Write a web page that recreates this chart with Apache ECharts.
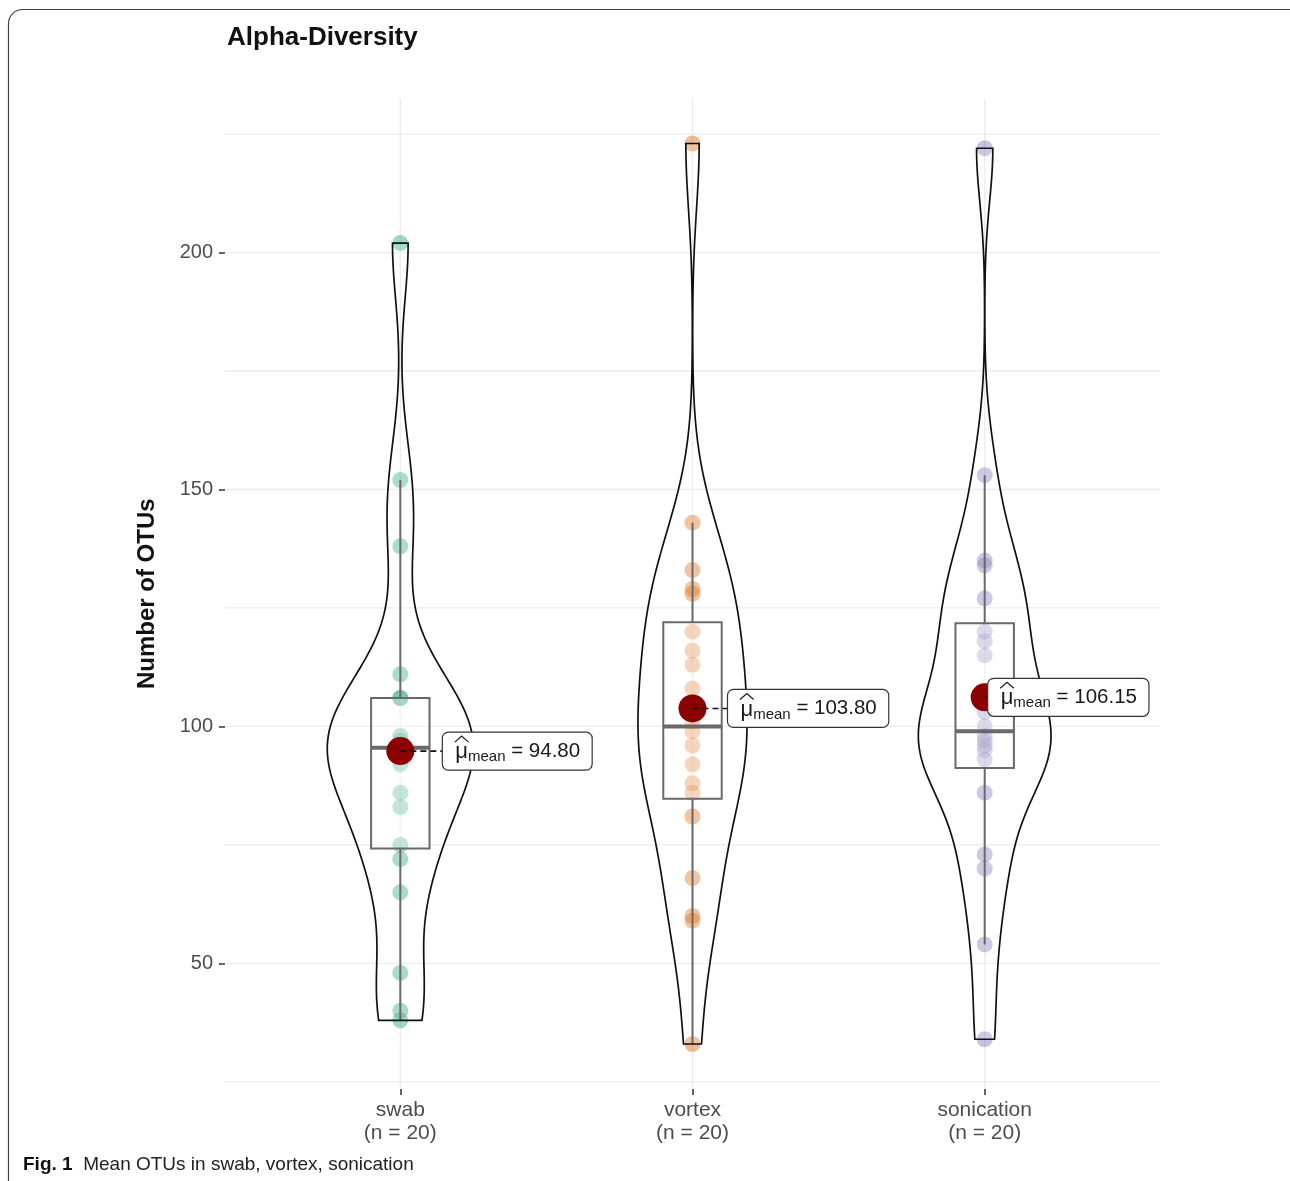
<!DOCTYPE html>
<html>
<head>
<meta charset="utf-8">
<script src="https://cdn.jsdelivr.net/npm/echarts@6/dist/echarts.min.js"></script>
<style>
  html, body { margin: 0; padding: 0; background: #ffffff; }
  #chart { width: 1290px; height: 1181px; }
</style>
</head>
<body>
<div id="chart"></div>
<script>
// Observed OTU counts per sampling method (20 samples each)
const categories = ['swab', 'vortex', 'sonication'];
const swabOTUs = [38, 40, 48, 65, 72, 75, 83, 86, 92, 95, 96, 96, 97, 98, 106, 106, 111, 138, 152, 202];
const vortexOTUs = [33, 59, 60, 68, 81, 86, 88, 92, 96, 99, 101, 108, 113, 116, 120, 128, 129, 133, 143, 223];
const sonicationOTUs = [34, 54, 70, 73, 86, 93, 95, 96, 97, 98, 100, 103, 115, 118, 120, 127, 134, 135, 153, 222];
const yTickValues = [50, 100, 150, 200];
const yGridValues = [25, 50, 75, 100, 125, 150, 175, 200, 225];

// Styling / layout
const groupColors = ['#1b9e77', '#d95f02', '#7570b3'];
const meanLabelOffsetPx = [42, 35, 3];
const FONT = '"Liberation Sans", Arial, Helvetica, sans-serif';
const GRID_COLOR = '#ebebeb';

const groups = [swabOTUs, vortexOTUs, sonicationOTUs];

// ---------- statistics helpers ----------
function sortNum(a) { return a.slice().sort((x, y) => x - y); }
function quantile7(sorted, p) {
  const h = (sorted.length - 1) * p;
  const lo = Math.floor(h);
  const hi = Math.min(lo + 1, sorted.length - 1);
  return sorted[lo] + (h - lo) * (sorted[hi] - sorted[lo]);
}
function mean(a) { return a.reduce((s, v) => s + v, 0) / a.length; }
function sd(a) {
  const m = mean(a);
  return Math.sqrt(a.reduce((s, v) => s + (v - m) * (v - m), 0) / (a.length - 1));
}
function bwNrd0(a) {
  const s = sortNum(a);
  const iqr = quantile7(s, 0.75) - quantile7(s, 0.25);
  const lo = Math.min(sd(a), iqr / 1.34);
  return 0.9 * lo * Math.pow(a.length, -0.2);
}
function kde(a, bw, x) {
  let sum = 0;
  for (const v of a) { const z = (x - v) / bw; sum += Math.exp(-0.5 * z * z); }
  return sum / (a.length * bw * Math.sqrt(2 * Math.PI));
}
function boxStats(a) {
  const s = sortNum(a);
  const q1 = quantile7(s, 0.25), med = quantile7(s, 0.5), q3 = quantile7(s, 0.75);
  const iqr = q3 - q1;
  const lowFence = q1 - 1.5 * iqr, highFence = q3 + 1.5 * iqr;
  const lowW = s.find(v => v >= lowFence);
  const highW = s.slice().reverse().find(v => v <= highFence);
  return { q1, med, q3, lowW, highW };
}

// Violin outlines: gaussian KDE trimmed to each group's range, area-scaled
const N_DENS = 256;
const violins = groups.map(a => {
  const bw = bwNrd0(a);
  const lo = Math.min(...a), hi = Math.max(...a);
  const pts = [];
  for (let k = 0; k < N_DENS; k++) {
    const y = lo + (hi - lo) * k / (N_DENS - 1);
    pts.push([y, kde(a, bw, y)]);
  }
  return pts;
});
const maxDensity = Math.max(...violins.map(v => Math.max(...v.map(p => p[1]))));
const VIOLIN_HALF = 0.25;
const BOX_HALF = 0.1;

const stats = groups.map(boxStats);
const means = groups.map(mean);

const allVals = groups.flat();
const dMin = Math.min(...allVals), dMax = Math.max(...allVals);
const yPad = (dMax - dMin) * 0.05;
const yMin = dMin - yPad, yMax = dMax + yPad;
const X_MIN = 0.4, X_MAX = 3.6;

// text measuring for the mean label boxes
const measureCtx = document.createElement('canvas').getContext('2d');
function textWidth(str, size) {
  measureCtx.font = size + 'px ' + FONT;
  return measureCtx.measureText(str).width;
}

const chart = echarts.init(document.getElementById('chart'), null, { renderer: 'canvas' });

const series = [];

// horizontal grid lines
series.push({
  type: 'custom', silent: true, z: 0,
  data: yGridValues.map(v => [2, v]),
  renderItem(params, api) {
    const v = api.value(1);
    const a = api.coord([X_MIN, v]), b = api.coord([X_MAX, v]);
    return { type: 'line', shape: { x1: a[0], y1: a[1], x2: b[0], y2: b[1] },
      style: { stroke: GRID_COLOR, lineWidth: 1.3 } };
  }
});
// vertical grid lines at each category
series.push({
  type: 'custom', silent: true, z: 0,
  data: categories.map((c, i) => [i + 1, 100]),
  renderItem(params, api) {
    const x = api.value(0);
    const a = api.coord([x, yMin]), b = api.coord([x, yMax]);
    return { type: 'line', shape: { x1: a[0], y1: a[1], x2: b[0], y2: b[1] },
      style: { stroke: GRID_COLOR, lineWidth: 1.3 } };
  }
});

// raw observations
groups.forEach((a, i) => {
  series.push({
    type: 'scatter', silent: true, z: 2,
    symbolSize: 16,
    itemStyle: { color: groupColors[i], opacity: 0.42 },
    data: a.map(v => [i + 1, v])
  });
});

// box plots
series.push({
  type: 'custom', silent: true, z: 3,
  data: categories.map((c, i) => [i + 1, stats[i].med]),
  renderItem(params, api) {
    const i = params.dataIndex, st = stats[i], x = i + 1;
    const c = (xx, yy) => api.coord([xx, yy]);
    const l = c(x - BOX_HALF, st.q3), r = c(x + BOX_HALF, st.q1);
    const wTop = c(x, st.highW), q3c = c(x, st.q3), q1c = c(x, st.q1), wBot = c(x, st.lowW);
    const mL = c(x - BOX_HALF, st.med), mR = c(x + BOX_HALF, st.med);
    const stroke = '#555555';
    return { type: 'group', children: [
      { type: 'line', shape: { x1: wTop[0], y1: wTop[1], x2: q3c[0], y2: q3c[1] }, style: { stroke, lineWidth: 2 } },
      { type: 'line', shape: { x1: q1c[0], y1: q1c[1], x2: wBot[0], y2: wBot[1] }, style: { stroke, lineWidth: 2 } },
      { type: 'rect', shape: { x: l[0], y: l[1], width: r[0] - l[0], height: r[1] - l[1] },
        style: { fill: 'rgba(255,255,255,0.3)', stroke, lineWidth: 2 } },
      { type: 'line', shape: { x1: mL[0], y1: mL[1], x2: mR[0], y2: mR[1] }, style: { stroke, lineWidth: 4 } }
    ] };
  }
});

// violins
series.push({
  type: 'custom', silent: true, z: 4,
  data: categories.map((c, i) => [i + 1, stats[i].med]),
  renderItem(params, api) {
    const i = params.dataIndex, x = i + 1, dens = violins[i];
    const right = dens.map(p => api.coord([x + VIOLIN_HALF * p[1] / maxDensity, p[0]]));
    const left = dens.slice().reverse().map(p => api.coord([x - VIOLIN_HALF * p[1] / maxDensity, p[0]]));
    return { type: 'polygon', shape: { points: right.concat(left) },
      style: { fill: 'rgba(255,255,255,0.12)', stroke: '#111111', lineWidth: 1.7 } };
  }
});

// group means
series.push({
  type: 'scatter', silent: true, z: 6,
  symbolSize: 28,
  itemStyle: { color: '#8b0000', opacity: 1 },
  data: means.map((m, i) => [i + 1, m])
});

// mean labels: hat-mu with "mean" subscript and the value
series.push({
  type: 'custom', silent: true, z: 7,
  data: means.map((m, i) => [i + 1, m]),
  renderItem(params, api) {
    const i = params.dataIndex;
    const p = api.coord([api.value(0), api.value(1)]);
    const valueText = ' = ' + means[i].toFixed(2);
    const mainSize = 20.5, subSize = 15, muSize = 22;
    const padL = 13, padR = 12, h = 38;
    const wMu = textWidth('\u03bc', muSize);
    const wSub = textWidth('mean', subSize);
    const wVal = textWidth(valueText, mainSize);
    const bx = p[0] + meanLabelOffsetPx[i];
    const w = padL + wMu + wSub + wVal + padR;
    const cy = p[1];
    const muX = bx + padL;
    return { type: 'group', children: [
      { type: 'line', shape: { x1: p[0], y1: cy, x2: bx, y2: cy },
        style: { stroke: '#111', lineWidth: 1.6, lineDash: [6, 4] } },
      { type: 'rect', shape: { x: bx, y: cy - h / 2, width: w, height: h, r: 6 },
        style: { fill: '#ffffff', stroke: '#333333', lineWidth: 1.2 } },
      { type: 'text', x: muX, y: cy + 1,
        style: { text: '\u03bc', font: muSize + 'px ' + FONT, fill: '#1a1a1a', align: 'left', verticalAlign: 'middle' } },
      { type: 'polyline', shape: { points: [[muX - 0.5, cy - 9], [muX + wMu / 2, cy - 15], [muX + wMu + 0.5, cy - 9]] },
        style: { stroke: '#1a1a1a', lineWidth: 1.2, fill: null } },
      { type: 'text', x: muX + wMu, y: cy + 6,
        style: { text: 'mean', font: subSize + 'px ' + FONT, fill: '#1a1a1a', align: 'left', verticalAlign: 'middle' } },
      { type: 'text', x: muX + wMu + wSub, y: cy,
        style: { text: valueText, font: mainSize + 'px ' + FONT, fill: '#1a1a1a', align: 'left', verticalAlign: 'middle' } }
    ] };
  }
});

chart.setOption({
  animation: false,
  backgroundColor: '#ffffff',
  textStyle: { fontFamily: FONT },
  title: {
    text: 'Alpha-Diversity', left: 222, top: 20,
    textStyle: { fontFamily: FONT, fontSize: 26, fontWeight: 'bold', color: '#111111' }
  },
  grid: { left: 225, right: 130, top: 98.5, bottom: 92 },
  xAxis: {
    type: 'value', min: X_MIN, max: X_MAX,
    axisLine: { show: false },
    splitLine: { show: false },
    axisTick: { show: true, customValues: [1, 2, 3], length: 6, lineStyle: { color: '#333333', width: 1.5 } },
    axisLabel: {
      customValues: [1, 2, 3], margin: 10, fontSize: 21, lineHeight: 23, color: '#4d4d4d',
      fontFamily: FONT,
      formatter: v => categories[v - 1] + '\n(n = ' + groups[v - 1].length + ')'
    }
  },
  yAxis: {
    type: 'value', min: yMin, max: yMax,
    name: 'Number of OTUs', nameLocation: 'middle', nameGap: 66,
    nameTextStyle: { fontFamily: FONT, fontSize: 24, fontWeight: 'bold', color: '#111111' },
    axisLine: { show: false },
    splitLine: { show: false },
    axisTick: { show: true, customValues: yTickValues, length: 6, lineStyle: { color: '#333333', width: 1.5 } },
    axisLabel: { customValues: yTickValues, margin: 12, fontSize: 20, color: '#4d4d4d', fontFamily: FONT }
  },
  graphic: [
    { type: 'rect', silent: true, z: 100,
      shape: { x: 8.5, y: 9.5, width: 1300, height: 1300, r: 14 },
      style: { fill: null, stroke: '#444444', lineWidth: 1.2 } },
    { type: 'text', silent: true, left: 23, top: 1155,
      style: {
        text: '{b|Fig. 1}{n|  Mean OTUs in swab, vortex, sonication}',
        rich: {
          b: { font: 'bold 19px ' + FONT, fill: '#111' },
          n: { font: '19px ' + FONT, fill: '#222' }
        }
      } }
  ],
  series
});
</script>
</body>
</html>
